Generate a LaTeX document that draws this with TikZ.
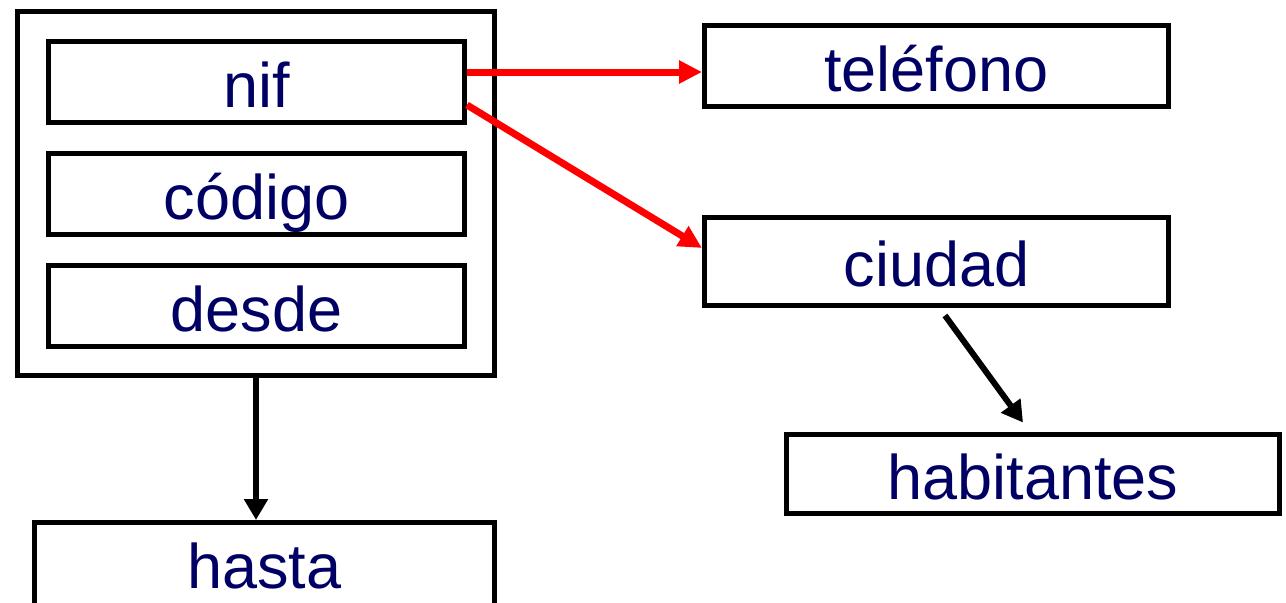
\documentclass[tikz,border=0pt]{standalone}
\usepackage{fontspec}
\setmainfont{Liberation Sans}
\usepackage{tikz}
\usetikzlibrary{arrows.meta}
\usetikzlibrary{calc}
\usetikzlibrary{positioning}
\definecolor{tinta}{RGB}{0,0,100}

\begin{document}
\begin{tikzpicture}[x=0.5pt, y=-0.5pt,
        campo/.style={draw, line width=2.5pt, inner sep=0pt, text=tinta,
            font=\fontsize{31.5}{36}\selectfont, text height=28pt, text depth=3pt,
            minimum height=40.5pt},
        flecha/.style={line width=3pt, -{Triangle[length=10.5pt, width=11.5pt]}},
        dep/.style={line width=3.5pt, color=red, -{Triangle[length=11.5pt, width=11pt]}}]
            \useasboundingbox (0,0) rectangle (1286,602);
            \node[draw, line width=2.5pt, minimum width=238.5pt, minimum height=182pt] (clave) at (256,193.5) {};
            \node[campo, minimum width=208pt] (nif) at (256.5,82) {nif};
            \node[campo, minimum width=208pt] (codigo) at (256.5,194) {código};
            \node[campo, minimum width=208pt] (desde) at (256.5,306) {desde};
            \node[campo, minimum width=230pt, minimum height=43pt, text height=26pt, text depth=3.5pt] (hasta) at (264.5,565.5) {hasta};
            \node[campo, minimum width=232pt] (telefono) at (936.5,66) {teléfono};
            \node[campo, minimum width=232pt, minimum height=44pt] (ciudad) at (936.5,261.5) {ciudad};
            \node[campo, minimum width=246.5pt, minimum height=39.5pt] (habitantes) at (1033,474) {habitantes};
            \draw[dep] ([yshift=5pt]nif.east) -- ([yshift=5pt]nif.east -| telefono.west);
            \draw[dep] ([yshift=-11.5pt]nif.east) -- ([yshift=6.75pt]ciudad.west);
            \draw[flecha] (clave.south) -- (clave.south |- hasta.north);
            \draw[flecha] ([xshift=4.25pt, yshift=-3.75pt]ciudad.south) -- ([xshift=-5pt, yshift=4.75pt]habitantes.north);
        \end{tikzpicture}
\end{document}
